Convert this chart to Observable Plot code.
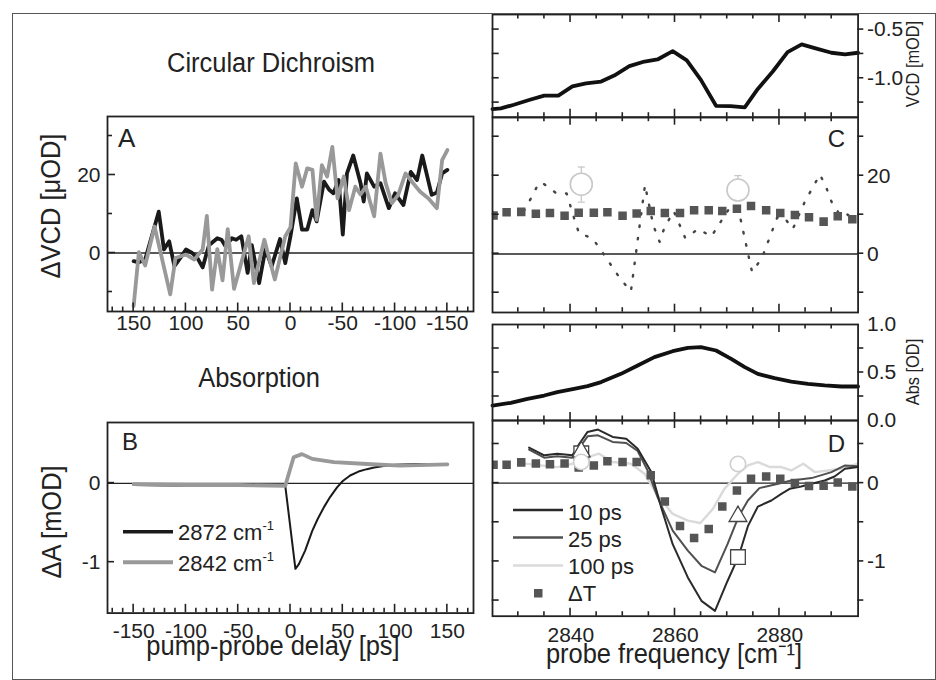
<!DOCTYPE html>
<html><head><meta charset="utf-8">
<script src="https://cdn.jsdelivr.net/npm/d3@7"></script>
<script src="https://cdn.jsdelivr.net/npm/@observablehq/plot@0.6"></script>
<style>
body{margin:0;background:#fff;}
#fig{position:relative;width:936px;height:680px;background:#fff;overflow:hidden;font-family:"Liberation Sans",Arial,sans-serif;}
</style></head><body><div id="fig"></div><script>
// ---------- Panel A: ΔVCD kinetics ----------
const delayA_2872 = [150,145,139,133,126,121,116,111,106,100,94,89,84,78,70,66,62,56,52,47,41,37,30,24,18,10,5,0,-6,-11,-16,-21,-25,-32,-37,-41,-46,-50,-54,-60,-67,-70,-73,-80,-86,-94,-100,-108,-115,-121,-126,-135,-140,-145,-150];
const vcdA_2872 = [-2.1,-2.4,-1.7,4,10.6,0.9,3,-3.4,-1.5,0.9,0,-1.3,-3.7,2,3.8,3.4,1.7,3.8,3.4,4.3,-5.1,2,-7.7,1,-3.4,3.6,-2.6,4.3,14,6,6,11,8.1,18.3,16.2,15.3,18.7,4.7,20.4,25,17.9,13.2,20.4,17,17.9,11.5,15.3,12.3,20.8,18.7,25,14.9,15.5,20.4,21.3];
const delayA_2842 = [150,145,139,130,115,110,100,92,84,80,75,70,65,60,54,40,35,25,15,5,0,-5,-11,-16,-21,-25,-30,-35,-40,-45,-51,-56,-62,-67,-72,-80,-86,-91,-97,-103,-110,-117,-124,-132,-140,-145,-150];
const vcdA_2842 = [-13.6,0.2,-3.2,6.8,-10.6,-1.3,-0.4,-1.7,0.9,9.5,-9.4,1,-7,6.1,-9.2,4.3,-7.7,3.4,-6.8,4.3,6.6,23,17,21.7,21.3,8.5,22.5,19.6,27.2,14,19.6,11,17,15,17,9.4,25.5,17.9,12.8,14.9,20.4,18,15.7,14,11.5,23.8,26.4];
// ---------- Panel B: ΔA kinetics ----------
const delayB_2872 = [-150,-100,-50,-5,4.7,8,14,20.8,26,32,38,44.5,50,57,65,73,80,89,100,121,150];
const dA_2872 = [-0.02,-0.03,-0.03,-0.03,-1.08,-1.02,-0.85,-0.6,-0.45,-0.3,-0.17,-0.05,0.03,0.1,0.15,0.18,0.2,0.22,0.235,0.245,0.235];
const delayB_2842 = [-150,-100,-50,-5,3,11,20.8,41.5,73,105,150];
const dA_2842 = [-0.01,-0.02,-0.02,-0.03,0.33,0.37,0.31,0.27,0.245,0.225,0.24];
// ---------- Static VCD spectrum ----------
const freqVCD = [2825.0,2826.6,2829.1,2832.0,2834.9,2837.6,2840.3,2842.9,2845.8,2848.3,2851.2,2854.1,2856.6,2859.5,2862.2,2864.9,2867.8,2870.6,2873.3,2875.8,2878.7,2881.5,2884.2,2886.7,2889.9,2892.5,2895.0];
const vcdStatic = [-1.317,-1.31,-1.272,-1.224,-1.179,-1.179,-1.083,-1.052,-1.034,-0.972,-0.876,-0.828,-0.807,-0.721,-0.817,-1.017,-1.283,-1.286,-1.300,-1.110,-0.928,-0.731,-0.652,-0.690,-0.738,-0.755,-0.738];
// ---------- Panel C ----------
const freqC = [2831.0,2832.5,2833.9,2834.9,2837.2,2839.2,2840.8,2841.6,2844.1,2845.8,2849.4,2851.5,2854.2,2855.8,2857.0,2857.9,2859.7,2861.9,2864.4,2866.9,2870.2,2872.0,2874.7,2876.6,2879.5,2880.8,2882.5,2884.8,2887.7,2889.0,2890.0,2891.5,2892.5,2894.4];
const dvcdC = [11.0,14.6,18.3,17.9,15.6,15.5,8.4,5.2,4.1,0.9,-6.2,-9.6,17.7,7.3,3.1,6.7,11.0,4.1,6.4,4.5,11.4,12.0,-4.6,-1.0,9.3,9.5,6.4,13.4,20.4,16.7,13.1,10.1,10.6,8.6];
const freqT = [2825.2,2827.7,2830.5,2833.3,2836.0,2838.8,2841.5,2844.4,2847.0,2849.9,2852.6,2855.3,2858.0,2860.9,2863.6,2866.4,2869.0,2871.8,2874.5,2877.4,2880.1,2882.9,2885.6,2888.4,2891.1,2893.9];
const dTvcd = [9.9,10.7,10.8,10.3,10.5,9.8,10.6,10.6,10.7,9.8,10.4,11.0,10.5,10.5,11.2,11.2,11.0,11.6,12.3,11.2,10.5,10.0,9.4,8.3,9.7,8.9];
const circFreqC = [2842, 2872];
const circValC = [17.9, 16.4];
const circLoC = [13.3, 14.0];
const circHiC = [22.3, 20.1];
// ---------- Static absorption ----------
const freqAbs = [2825,2828.5,2831.7,2834.9,2837.4,2840.6,2843.2,2845.8,2849.6,2852.8,2856.0,2859.5,2862.4,2864.9,2867.8,2870.7,2873.3,2875.8,2879.0,2882.2,2885.4,2888.6,2891.8,2895];
const absStatic = [0.156,0.184,0.226,0.26,0.295,0.33,0.358,0.40,0.486,0.573,0.66,0.722,0.757,0.764,0.729,0.642,0.556,0.486,0.441,0.406,0.382,0.365,0.354,0.354];
// ---------- Panel D ----------
const freq10 = [2832.0,2834.9,2837.4,2840.3,2841.6,2843.2,2845.2,2848.0,2850.6,2852.8,2855.4,2857.3,2859.5,2862.4,2865.0,2867.6,2870.0,2872.1,2873.9,2875.8,2878.4,2880.3,2881.9,2884.1,2886.1,2888.6,2890.5,2892.5,2895];
const dA10 = [0.453,0.355,0.376,0.355,0.50,0.654,0.684,0.59,0.568,0.44,0.141,-0.31,-0.78,-1.205,-1.504,-1.632,-1.25,-0.94,-0.55,-0.30,-0.222,-0.137,-0.073,-0.043,-0.009,0.034,0.085,0.184,0.205];
const freq25 = [2832.0,2834.9,2837.4,2840.3,2843.2,2845.2,2848.0,2850.6,2852.8,2854.7,2856.6,2859.5,2862.4,2865.0,2867.6,2870.0,2872.1,2873.9,2876.1,2879.7,2882.2,2886.1,2889.9,2892.5,2895];
const dA25 = [0.427,0.325,0.342,0.325,0.598,0.611,0.526,0.513,0.41,0.162,-0.18,-0.607,-0.863,-1.056,-1.141,-0.78,-0.43,-0.222,-0.064,-0.009,0.034,0.064,0.141,0.226,0.214];
const freq100 = [2830.4,2834.2,2837.4,2840.3,2843.2,2845.4,2848.0,2851.5,2854.1,2856.6,2859.5,2862.4,2864.8,2867.2,2869.4,2872.0,2873.9,2875.8,2878.1,2880.3,2882.2,2884.5,2886.7,2889.3,2891.8,2895];
const dA100 = [0.256,0.226,0.205,0.248,0.333,0.376,0.27,0.248,0.12,-0.158,-0.393,-0.479,-0.509,-0.329,-0.073,0.12,0.226,0.269,0.205,0.205,0.162,0.248,0.141,0.162,0.184,0.248];
const dTabs = [0.235,0.235,0.265,0.25,0.24,0.25,0.2,0.226,0.28,0.27,0.27,0.1,-0.235,-0.547,-0.70,-0.585,-0.30,-0.094,0.056,0.085,0.056,0.0,-0.038,-0.034,0.009,-0.043];
const markFreq = [2842, 2872];
const mark10 = [0.38, -0.945];
const mark25 = [0.40, -0.425];
const mark100 = [0.27, 0.245];
// ---------- tick values ----------
const delayMajorA = [150,100,50,0,-50,-100,-150];
const delayMajorB = [-150,-100,-50,0,50,100,150];
const freqMajor = [2840,2860,2880];
const freqMinor = [2830,2835,2845,2850,2855,2865,2870,2875,2885,2890];

const FONT = '"Liberation Sans", Arial, Helvetica, sans-serif';
const INK = "#222";
const fig = document.getElementById("fig");
const tbl = (xs, ys) => xs.map((x, i) => ({x, y: ys[i]}));
const delayMinor = d3.range(-170, 171, 10).filter(v => v % 50 !== 0);

const lX = (vals, anchor, pad, fmt) => Plot.axisX(vals, {anchor, tickSize: 0, tickPadding: pad, tickFormat: fmt, label: null, fontSize: 21, fill: INK});
const lY = (vals, anchor, pad, fmt) => Plot.axisY(vals, {anchor, tickSize: 0, tickPadding: pad, tickFormat: fmt, label: null, fontSize: 21, fill: INK});
const plain = d => String(d);
const one = d => d.toFixed(1);
const frame = () => Plot.frame({stroke: INK, strokeWidth: 1.8});
const zero = () => Plot.ruleY([0], {stroke: INK, strokeWidth: 1.4});

// tick segments are collected per panel and positioned through the panel's own Plot scales
const tickLines = [];
function panel({left, top, width, height, x, y, marks, ticks = [], mL = 70, mR = 70, mT = 10, mB = 45}) {
  const svg = Plot.plot({
    width: width + mL + mR, height: height + mT + mB,
    marginLeft: mL, marginRight: mR, marginTop: mT, marginBottom: mB,
    x: {label: null, axis: null, ...x}, y: {label: null, axis: null, ...y},
    style: {fontFamily: FONT, fontSize: "21px", color: INK, background: "none", overflow: "visible"},
    marks
  });
  Object.assign(svg.style, {position: "absolute", left: (left - mL) + "px", top: (top - mT) + "px", maxWidth: "none"});
  fig.appendChild(svg);
  const sx = svg.scale("x"), sy = svg.scale("y");
  const ox = left - mL, oy = top - mT;
  const x0 = left, x1 = left + width, y0 = top, y1 = top + height;
  for (const [side, vals, len] of ticks) {
    for (const v of vals) {
      if (side === "bottom" || side === "top") {
        const px = ox + sx.apply(v);
        const yb = side === "bottom" ? y1 : y0, dir = side === "bottom" ? -1 : 1;
        tickLines.push([px, yb, px, yb + dir * len]);
      } else {
        const py = oy + sy.apply(v);
        if (side === "left") tickLines.push([x0, py, x0 + len, py]);
        else tickLines.push([x1, py, x1 + len, py]);
      }
    }
  }
}

// Panel A
panel({left: 107, top: 116, width: 366, height: 195,
  x: {domain: [175, -175]}, y: {domain: [-15, 35]},
  marks: [
    zero(),
    Plot.line(tbl(delayA_2872, vcdA_2872), {x: "x", y: "y", stroke: "#1a1a1a", strokeWidth: 3.8, strokeLinejoin: "round"}),
    Plot.line(tbl(delayA_2842, vcdA_2842), {x: "x", y: "y", stroke: "#999", strokeWidth: 3.8, strokeLinejoin: "round"}),
    lX(delayMajorA, "bottom", 4, plain),
    lY([0, 20], "left", 7, plain),
    frame()
  ],
  ticks: [["bottom", delayMinor, 4.5], ["bottom", delayMajorA, 8.5], ["left", [-10, 10, 30], 5], ["left", [0, 20], 8]]
});

// Panel B
panel({left: 107, top: 421.7, width: 366, height: 190.6,
  x: {domain: [-175, 175]}, y: {domain: [-1.64, 0.77]},
  marks: [
    zero(),
    Plot.line(tbl(delayB_2872, dA_2872), {x: "x", y: "y", stroke: "#1a1a1a", strokeWidth: 2, strokeLinejoin: "round"}),
    Plot.line(tbl(delayB_2842, dA_2842), {x: "x", y: "y", stroke: "#999", strokeWidth: 3.8, strokeLinejoin: "round"}),
    lX(delayMajorB, "bottom", 10, plain),
    lY([0, -1], "left", 7, plain),
    frame()
  ],
  ticks: [["bottom", delayMinor, 4.5], ["bottom", delayMajorB, 8.5], ["left", [0, -1], 7]]
});

const fx = {domain: [2825, 2895]};
const freqTicks = [["bottom", freqMinor, 4.5], ["bottom", freqMajor, 8], ["top", freqMinor, 4.5], ["top", freqMajor, 8]];

// Static VCD
panel({left: 491.7, top: 14, width: 365.6, height: 102.7,
  x: fx, y: {domain: [-1.4, -0.345]},
  marks: [
    Plot.line(tbl(freqVCD, vcdStatic), {x: "x", y: "y", stroke: "#111", strokeWidth: 3.8, strokeLinejoin: "round"}),
    lY([-0.5, -1.0], "right", 9, one),
    frame()
  ],
  ticks: [...freqTicks, ["left", [-0.5, -0.75, -1.0, -1.25], 7], ["right", [-0.5, -0.75, -1.0, -1.25], 6]]
});

// Panel C
const capSym = {draw(ctx, size) { const w = Math.sqrt(size); ctx.moveTo(-w / 2, 0); ctx.lineTo(w / 2, 0); }};
const circC = circFreqC.map((x, i) => ({x, y: circValC[i], lo: circLoC[i], hi: circHiC[i]}));
panel({left: 491.7, top: 116.7, width: 365.6, height: 195,
  x: fx, y: {domain: [-15, 35]},
  marks: [
    zero(),
    Plot.line(tbl(freqC, dvcdC), {x: "x", y: "y", stroke: "#444", strokeWidth: 2.4, strokeDasharray: "1.5,11", strokeLinecap: "round"}),
    Plot.dot(tbl(freqT, dTvcd), {x: "x", y: "y", symbol: "square", r: 4.8, fill: "#555", stroke: "none", clip: true}),
    Plot.ruleX(circC, {x: "x", y1: "lo", y2: "hi", stroke: "#c8c8c8", strokeWidth: 1.3}),
    Plot.dot(circC, {x: "x", y: "lo", symbol: capSym, r: 4, stroke: "#c8c8c8", strokeWidth: 1.3}),
    Plot.dot(circC, {x: "x", y: "hi", symbol: capSym, r: 4, stroke: "#c8c8c8", strokeWidth: 1.3}),
    Plot.dot(circC, {x: "x", y: "y", r: 11, stroke: "#c8c8c8", strokeWidth: 1.6, fill: "white"}),
    lY([0, 20], "right", 9, plain),
    frame()
  ],
  ticks: [...freqTicks, ["left", [-10, 0, 10, 20, 30], 7], ["right", [-10, 0, 10, 20, 30], 6]]
});

// Static absorption
panel({left: 491.7, top: 324, width: 365.6, height: 96,
  x: fx, y: {domain: [0, 1]},
  marks: [
    Plot.line(tbl(freqAbs, absStatic), {x: "x", y: "y", stroke: "#111", strokeWidth: 3.8, strokeLinejoin: "round"}),
    lY([1.0, 0.5, 0.0], "right", 9, one),
    frame()
  ],
  ticks: [...freqTicks, ["left", [0.25, 0.5, 0.75], 7], ["right", [0.25, 0.5, 0.75], 6]]
});

// Panel D
const markD = markFreq.map((x, i) => ({x, a: mark10[i], b: mark25[i], c: mark100[i]}));
panel({left: 491.7, top: 420, width: 365.6, height: 195.7,
  x: fx, y: {domain: [-1.7, 0.8]},
  marks: [
    zero(),
    Plot.line(tbl(freq100, dA100), {x: "x", y: "y", stroke: "#dadada", strokeWidth: 2.4, strokeLinejoin: "round"}),
    Plot.line(tbl(freq25, dA25), {x: "x", y: "y", stroke: "#505050", strokeWidth: 2, strokeLinejoin: "round"}),
    Plot.line(tbl(freq10, dA10), {x: "x", y: "y", stroke: "#2a2a2a", strokeWidth: 2, strokeLinejoin: "round"}),
    Plot.dot(tbl(freqT, dTabs), {x: "x", y: "y", symbol: "square", r: 4.8, fill: "#555", stroke: "none", clip: true}),
    Plot.dot(markD, {x: "x", y: "a", symbol: "square", r: 8.3, fill: "white", stroke: "#444", strokeWidth: 1.3}),
    Plot.dot(markD, {x: "x", y: "b", symbol: "triangle", r: 6.6, fill: "white", stroke: "#444", strokeWidth: 1.3}),
    Plot.dot(markD, {x: "x", y: "c", r: 7.7, fill: "white", stroke: "#cfcfcf", strokeWidth: 1.6}),
    lY([0, -1], "right", 9, plain),
    lX(freqMajor, "bottom", 11, plain),
    frame()
  ],
  ticks: [...freqTicks, ["left", [0.5, 0, -0.5, -1, -1.5], 7], ["right", [0.5, 0, -0.5, -1, -1.5], 6]]
});

// ---------- overlay: ticks, titles, axis titles, legends, border ----------
const border = document.createElement("div");
Object.assign(border.style, {position: "absolute", left: "12px", top: "13px", width: "922px", height: "665px", border: "1px solid #555", pointerEvents: "none"});
fig.appendChild(border);

const T = (s, x, y, o = {}) => {
  const size = o.size || 28, anchor = o.anchor || "middle", rot = o.rot || 0, sx = o.sx == null ? 0.91 : o.sx;
  return `<text transform="translate(${x},${y}) rotate(${rot}) scale(${sx},1)" text-anchor="${anchor}" font-size="${size}" fill="${INK}">${s}</text>`;
};
const sup = (s) => `<tspan dy="-10" font-size="13">${s}</tspan>`;
const ov = document.createElementNS("http://www.w3.org/2000/svg", "svg");
ov.setAttribute("width", 936); ov.setAttribute("height", 680);
Object.assign(ov.style, {position: "absolute", left: "0px", top: "0px", pointerEvents: "none", fontFamily: FONT});
ov.innerHTML = [
  `<g stroke="${INK}" stroke-width="1.6">` + tickLines.map(([a, b, c, d]) => `<line x1="${a}" y1="${b}" x2="${c}" y2="${d}"/>`).join("") + `</g>`,
  T("Circular Dichroism", 271, 71.5),
  T("Absorption", 259, 386.5),
  T("ΔVCD [μOD]", 60, 206, {rot: -90}),
  T("ΔA [mOD]", 61, 522, {rot: -90}),
  T("pump-probe delay [ps]", 273, 655),
  T("probe frequency [cm⁻¹]", 674, 663),
  T("VCD [mOD]", 919, 64, {rot: -90, size: 18}),
  T("Abs [OD]", 919, 372, {rot: -90, size: 18}),
  T("A", 118, 147, {anchor: "start", size: 26, sx: 1}),
  T("B", 122, 450, {anchor: "start", size: 24, sx: 1}),
  T("C", 845, 147, {anchor: "end", size: 24, sx: 1}),
  T("D", 845, 452, {anchor: "end", size: 24, sx: 1}),
  // legend B
  `<line x1="123" x2="173" y1="531.7" y2="531.7" stroke="#1a1a1a" stroke-width="3.5"/>`,
  `<line x1="123" x2="173" y1="562.3" y2="562.3" stroke="#999" stroke-width="4"/>`,
  T(`2872 cm${sup("-1")}`, 178, 540, {anchor: "start", size: 22, sx: 1}),
  T(`2842 cm${sup("-1")}`, 178, 571, {anchor: "start", size: 22, sx: 1}),
  // legend D
  `<line x1="513" x2="563" y1="510" y2="510" stroke="#2a2a2a" stroke-width="2.5"/>`,
  `<line x1="513" x2="563" y1="537.5" y2="537.5" stroke="#505050" stroke-width="2.5"/>`,
  `<line x1="513" x2="563" y1="565.5" y2="565.5" stroke="#dadada" stroke-width="2.5"/>`,
  `<rect x="534" y="589" width="8.5" height="8.5" fill="#555"/>`,
  T("10 ps", 568, 520, {anchor: "start", size: 22, sx: 1}),
  T("25 ps", 568, 547, {anchor: "start", size: 22, sx: 1}),
  T("100 ps", 568, 574, {anchor: "start", size: 22, sx: 1}),
  T("ΔT", 568, 601, {anchor: "start", size: 22, sx: 1})
].join("");
fig.appendChild(ov);
</script></body></html>
